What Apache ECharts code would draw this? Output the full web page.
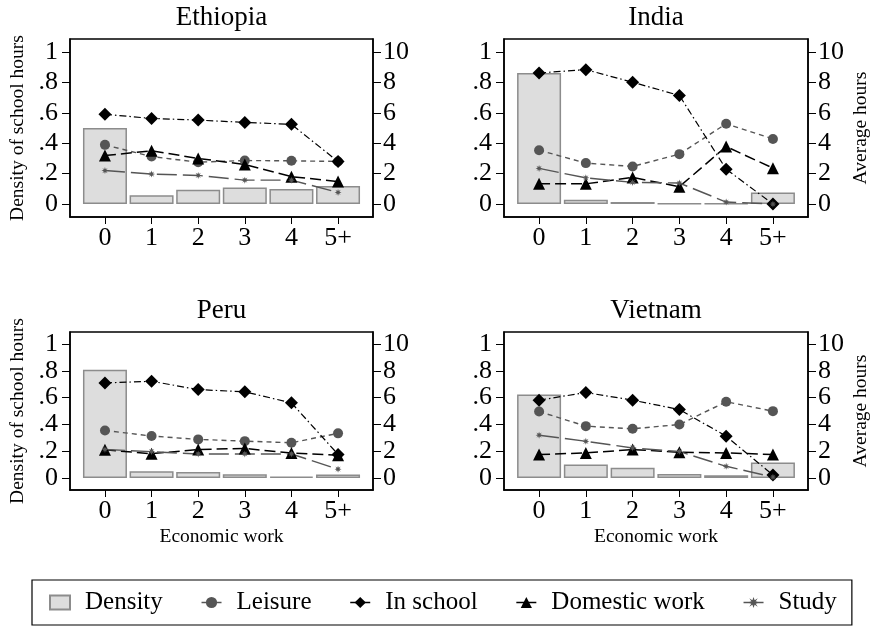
<!DOCTYPE html>
<html>
<head>
<meta charset="utf-8">
<script src="https://cdn.jsdelivr.net/npm/echarts@6/dist/echarts.min.js"></script>
<style>html,body{margin:0;padding:0;background:#fff}#main{width:872px;height:627px}</style>
</head>
<body>
<div id="main"></div>
<script>
var countries = ['Ethiopia', 'India', 'Peru', 'Vietnam'];
var workLabels = ['0', '1', '2', '3', '4', '5+'];
var workPos = [0, 1, 2, 3, 4, 5];
var densityTicks = [0, 0.2, 0.4, 0.6, 0.8, 1];
var hourTicks = [0, 2, 4, 6, 8, 10];

// density of school hours (left axis), one row per country
var density = [
  [0.50, 0.057, 0.094, 0.109, 0.098, 0.118],
  [0.862, 0.028, 0.013, 0.002, 0.004, 0.076],
  [0.809, 0.05, 0.045, 0.027, 0.01, 0.025],
  [0.623, 0.10, 0.077, 0.03, 0.02, 0.115]
];
// average hours (right axis)
var leisure = [
  [3.89, 3.12, 2.75, 2.86, 2.84, 2.8],
  [3.54, 2.69, 2.47, 3.28, 5.28, 4.28],
  [3.55, 3.13, 2.88, 2.75, 2.63, 3.33],
  [4.96, 3.87, 3.67, 3.99, 5.69, 4.99]
];
var inSchool = [
  [5.9, 5.63, 5.52, 5.37, 5.24, 2.79],
  [8.62, 8.84, 8.01, 7.14, 2.29, 0],
  [7.1, 7.22, 6.6, 6.43, 5.61, 1.76],
  [5.81, 6.38, 5.81, 5.11, 3.12, 0.22]
];
var domestic = [
  [3.19, 3.5, 3.0, 2.6, 1.8, 1.48],
  [1.33, 1.33, 1.75, 1.14, 3.78, 2.36],
  [2.1, 1.81, 2.13, 2.2, 1.86, 1.7],
  [1.75, 1.87, 2.12, 1.92, 1.87, 1.75]
];
var study = [
  [2.2, 1.97, 1.88, 1.57, 1.57, 0.76],
  [2.34, 1.72, 1.42, 1.38, 0.13, 0.0],
  [2.13, 1.96, 1.79, 1.79, 1.79, 0.65],
  [3.19, 2.74, 2.24, 1.97, 0.87, 0.07]
];

var font = "'Liberation Serif', 'Times New Roman', serif";
var myChart = echarts.init(document.getElementById('main'));

var grids = [
  {left: 70, top: 39, width: 303, height: 178},
  {left: 504, top: 39, width: 304, height: 178},
  {left: 70, top: 332, width: 303, height: 158},
  {left: 504, top: 332, width: 304, height: 158}
];
var pads = [0.0855, 0.0855, 0.09, 0.09];
var starPath = 'path://M4 0L5 3L8 4L5 5L4 8L3 5L0 4L3 3Z M1 1L4 3L7 1L5 4L7 7L4 5L1 7L3 4Z';

function pts(arr) {
  return workPos.map(function (x, j) { return [x, arr[j]]; });
}

var xAxes = [], yAxes = [], series = [], titles = [];
grids.forEach(function (g, i) {
  g.show = true;
  g.borderColor = '#000';
  g.borderWidth = 1.5;
  var pad = pads[i];
  titles.push({
    text: countries[i],
    left: g.left + g.width / 2,
    top: i < 2 ? 4 : 297,
    textAlign: 'center',
    padding: 0,
    textStyle: {fontSize: 27, fontWeight: 'normal', fontFamily: font, color: '#000'}
  });
  xAxes.push({
    gridIndex: i, type: 'value', min: -0.75, max: 5.75,
    splitLine: {show: false},
    axisLine: {show: true, onZero: false, lineStyle: {color: '#000', width: 1.5}},
    axisTick: {show: true, customValues: workPos, length: 7, lineStyle: {color: '#000'}},
    axisLabel: {customValues: workPos, margin: 8, fontSize: 26, color: '#000', fontFamily: font,
      formatter: function (v) { return workLabels[Math.round(v)]; }},
    name: i >= 2 ? 'Economic work' : '',
    nameLocation: 'middle', nameGap: 37,
    nameTextStyle: {fontSize: 19.5, color: '#000', fontFamily: font}
  });
  yAxes.push({
    gridIndex: i, type: 'value', position: 'left', min: -pad, max: 1 + pad,
    splitLine: {show: false},
    axisLine: {show: true, onZero: false, lineStyle: {color: '#000', width: 1.5}},
    axisTick: {show: true, customValues: densityTicks, length: 8, lineStyle: {color: '#000'}},
    axisLabel: {customValues: densityTicks, margin: 12, fontSize: 26, color: '#000', fontFamily: font,
      formatter: function (v) { return String(v).replace(/^0\./, '.'); }},
    name: i % 2 === 0 ? 'Density of school hours' : '',
    nameLocation: 'middle', nameGap: 42, nameRotate: 90,
    nameTextStyle: {fontSize: 19.5, color: '#000', fontFamily: font}
  });
  yAxes.push({
    gridIndex: i, type: 'value', position: 'right', min: -10 * pad, max: 10 * (1 + pad),
    splitLine: {show: false},
    axisLine: {show: true, onZero: false, lineStyle: {color: '#000', width: 1.5}},
    axisTick: {show: true, customValues: hourTicks, length: 8, lineStyle: {color: '#000'}},
    axisLabel: {customValues: hourTicks, margin: 10, fontSize: 26, color: '#000', fontFamily: font},
    name: i % 2 === 1 ? 'Average hours' : '',
    nameLocation: 'middle', nameGap: 43, nameRotate: 90,
    nameTextStyle: {fontSize: 19.5, color: '#000', fontFamily: font}
  });

  series.push({
    name: 'Density', type: 'bar', xAxisIndex: i, yAxisIndex: 2 * i,
    data: pts(density[i]), barWidth: 44,
    itemStyle: {color: '#dddddd', borderColor: '#8c8c8c', borderWidth: 1.5}
  });
  series.push({
    name: 'Leisure', type: 'line', xAxisIndex: i, yAxisIndex: 2 * i + 1,
    data: pts(leisure[i]), symbol: 'circle', symbolSize: 10,
    itemStyle: {color: '#555555'},
    lineStyle: {color: '#555555', width: 1.4, type: [5, 4]}
  });
  series.push({
    name: 'In school', type: 'line', xAxisIndex: i, yAxisIndex: 2 * i + 1,
    data: pts(inSchool[i]), symbol: 'diamond', symbolSize: 13,
    itemStyle: {color: '#000'},
    lineStyle: {color: '#000', width: 1.2, type: [7, 3, 1.5, 3]}
  });
  series.push({
    name: 'Domestic work', type: 'line', xAxisIndex: i, yAxisIndex: 2 * i + 1,
    data: pts(domestic[i]), symbol: 'triangle', symbolSize: 12,
    itemStyle: {color: '#000'},
    lineStyle: {color: '#000', width: 1.5, type: [11, 5]}
  });
  series.push({
    name: 'Study', type: 'line', xAxisIndex: i, yAxisIndex: 2 * i + 1,
    data: pts(study[i]), symbol: starPath, symbolSize: 7,
    itemStyle: {color: '#555555'},
    lineStyle: {color: '#555555', width: 1.4, type: [20, 6]}
  });
});

var option = {
  animation: false,
  title: titles,
  grid: grids,
  xAxis: xAxes,
  yAxis: yAxes,
  legend: {
    data: [{name: 'Density', icon: 'rect'}, 'Leisure', 'In school', 'Domestic work', 'Study'],
    left: 32, top: 580,
    padding: [10, 15, 10, 17],
    itemGap: 38, itemWidth: 20, itemHeight: 14,
    borderColor: '#000', borderWidth: 1.2,
    lineStyle: {type: 'solid', width: 1.5},
    textStyle: {fontSize: 25, color: '#000', fontFamily: font, padding: [0, 0, 0, 10]}
  },
  series: series
};
myChart.setOption(option);
window.onresize = myChart.resize;
</script>
</body>
</html>
